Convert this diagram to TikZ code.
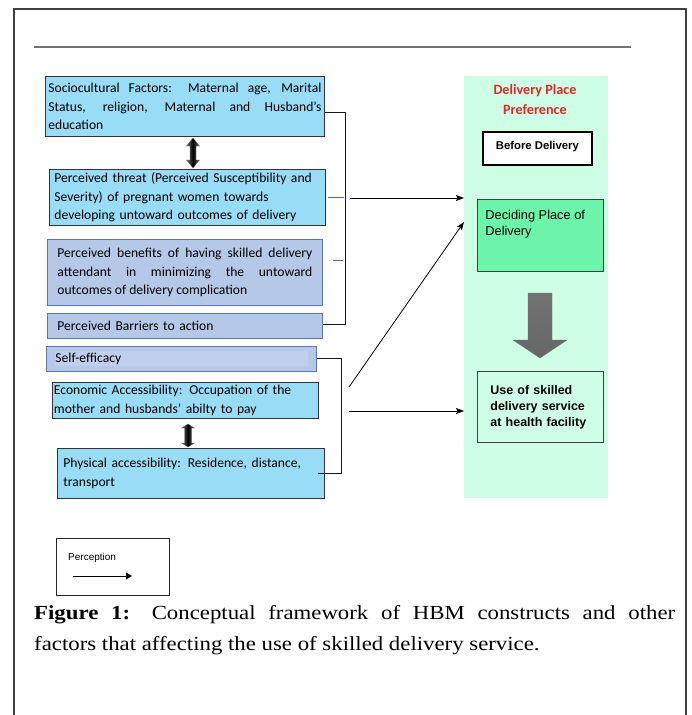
\documentclass[tikz,border=0pt]{standalone}
\usepackage{fontspec}
\setmainfont{Liberation Serif}
\newfontfamily\capf[FakeStretch=1.14]{Liberation Serif}
\newfontfamily\calf{Carlito}
\newfontfamily\arif{Liberation Sans}
\usetikzlibrary{arrows.meta}
\definecolor{cyanbox}{RGB}{152,220,246}
\definecolor{bluebox}{RGB}{182,200,232}
\definecolor{blueinner}{RGB}{192,207,237}
\definecolor{bluebord}{RGB}{90,120,175}
\definecolor{mint}{RGB}{206,255,230}
\definecolor{greenbox}{RGB}{108,245,170}
\definecolor{redtitle}{RGB}{218,40,40}
\definecolor{stubblue}{RGB}{70,110,170}
\tikzset{
  box/.style={draw=black!80, line width=0.8pt, anchor=north west, inner ysep=0pt,
    font=\calf\fontsize{13.6}{18.5}\selectfont},
  cy/.style={box, fill=cyanbox},
  bl/.style={box, fill=bluebox, draw=bluebord},
  conn/.style={line width=0.8pt, black!90},
  arr/.style={line width=0.8pt, -{Stealth[length=8pt,width=6pt,inset=1.5pt]}},
  stub/.style={line width=0.7pt, stubblue},
  dblarr/.style={left color=black!55, right color=black!55, middle color=black, draw=black!60, line width=0.3pt},
}
\begin{document}
\begin{tikzpicture}[x=1pt,y=-1pt]
\useasboundingbox (0,0) rectangle (691,715);
% frame and rule
\draw[black!75, line width=1.2pt] (14,715) -- (14,9) -- (686,9) -- (686,715);
\draw[black!55, line width=1.2pt] (34,47) -- (631,47);

% left column boxes
\node[cy, minimum width=279pt, minimum height=60pt, text width=273pt, inner xsep=3pt, align=justify] (soc) at (45,76)
  {Sociocultural Factors: Maternal age, Marital\linebreak Status, religion, Maternal and Husband’s\linebreak education};
\node[cy, minimum width=276pt, minimum height=56pt, text width=266pt, inner xsep=5pt, align=left] (thr) at (49,169)
  {Perceived threat (Perceived Susceptibility and\\ Severity) of pregnant women towards\\ developing untoward outcomes of delivery};
\node[bl, minimum width=275pt, minimum height=66pt, text width=255pt, inner xsep=10pt, align=justify] (ben) at (47,239)
  {Perceived benefits of having skilled delivery\linebreak attendant in minimizing the untoward\linebreak outcomes of delivery complication};
\node[bl, minimum width=275pt, minimum height=25pt, text width=255pt, inner xsep=10pt, align=left] (bar) at (47,313)
  {Perceived Barriers to action};
\node[bl, minimum width=270pt, minimum height=25pt, text width=252pt, inner xsep=9pt, align=left,
  path picture={\fill[blueinner] ([xshift=9pt,yshift=-5pt]path picture bounding box.north west) rectangle ([xshift=-8pt,yshift=5pt]path picture bounding box.south east);}] (self) at (46,346)
  {Self-efficacy};
\node[cy, minimum width=266pt, minimum height=36pt, text width=263pt, inner xsep=1.5pt, align=left] (eco) at (52,382)
  {Economic Accessibility: Occupation of the\\ mother and husbands’ abilty to pay};
\node[cy, minimum width=267pt, minimum height=50pt, text width=255pt, inner xsep=6pt, align=left] (phy) at (57,448)
  {Physical accessibility: Residence, distance,\\ transport};

% double arrows
\shade[dblarr] (193,138) -- (199.5,146) -- (196,146) -- (196,160) -- (199.5,160) -- (193,168) -- (186.5,160) -- (190,160) -- (190,146) -- (186.5,146) -- cycle;
\shade[dblarr] (188,424) -- (194.5,428) -- (191.5,428) -- (191.5,443) -- (194.5,443) -- (188,447) -- (181.5,443) -- (184.5,443) -- (184.5,428) -- (181.5,428) -- cycle;

% brackets
\draw[conn] ([yshift=-6pt]soc.east) -- ++(21,0) |- ([yshift=2pt]bar.east);
\draw[conn] ([yshift=1pt]self.east) -- ++(25,0) |- ([xshift=-7pt]phy.east);
\draw[stub] ([xshift=2pt]thr.east) -- ++(16,0);
\draw[stub] ([xshift=10pt,yshift=12pt]ben.east) -- ++(10,0);

% right panel
\node[fill=mint, anchor=north west, minimum width=144pt, minimum height=422pt, inner sep=0pt] (panel) at (464,76) {};
\node[font=\calf\bfseries\fontsize{14.2}{20}\selectfont, text=redtitle, align=center] (title) at (535,100) {Delivery Place\\Preference};
\node[draw=black, line width=1.8pt, fill=white, anchor=north west, minimum width=109pt, minimum height=33pt,
  font=\arif\bfseries\fontsize{11.3}{13}\selectfont] (before) at (482,131) {Before Delivery\rule[-6pt]{0pt}{6pt}};
\node[draw=black!75, line width=0.8pt, fill=greenbox, anchor=north west, inner sep=4pt, inner xsep=8pt,
  font=\arif\fontsize{12.8}{16.5}\selectfont] (dec) at (477,199)
  {\parbox[c][64pt][t]{110pt}{\raggedright\rule{0pt}{16pt}Deciding Place of\\Delivery}};
\shade[top color=black!55, middle color=black, bottom color=black!60, draw=black!55, line width=0.4pt]
  (528,293) -- (552,293) -- (552,340) -- (567,340) -- (540,358) -- (513,340) -- (528,340) -- cycle;
\node[draw=black!75, line width=0.8pt, anchor=north west, minimum width=126pt, minimum height=71pt, text width=100pt,
  inner xsep=13pt, align=left, font=\arif\bfseries\fontsize{12.5}{16}\selectfont] (use) at (477,371)
  {Use of skilled\\ delivery service\\ at health facility};

% arrows
\coordinate (a1s) at (350,198);
\coordinate (a2s) at (349,387);
\coordinate (a2e) at (464,222);
\coordinate (a3s) at (349,411);
\draw[arr] (a1s) -- (a1s -| panel.west);
\draw[arr] (a2s) -- (a2e);
\draw[arr] (a3s) -- (a3s -| panel.west);

% legend
\node[draw=black!85, line width=0.8pt, anchor=north west, minimum width=113pt, minimum height=57pt, inner sep=0pt] (legend) at (56,538) {};
\node[anchor=west, inner sep=0pt, font=\arif\fontsize{10}{12}\selectfont] (perc) at (68,558) {Perception};
\coordinate (la) at (73,576);
\coordinate (lb) at (132,576);
\draw[line width=0.8pt, -{Triangle[length=6pt,width=7pt]}] (la) -- (lb);

% caption
\node[anchor=north west, text width=641pt, inner sep=0pt, align=justify, font=\capf\fontsize{20}{31}\selectfont] (cap) at (34,605)
  {\textbf{Figure 1:} Conceptual framework of HBM constructs and other\linebreak factors that affecting the use of skilled delivery service.};
\end{tikzpicture}
\end{document}
